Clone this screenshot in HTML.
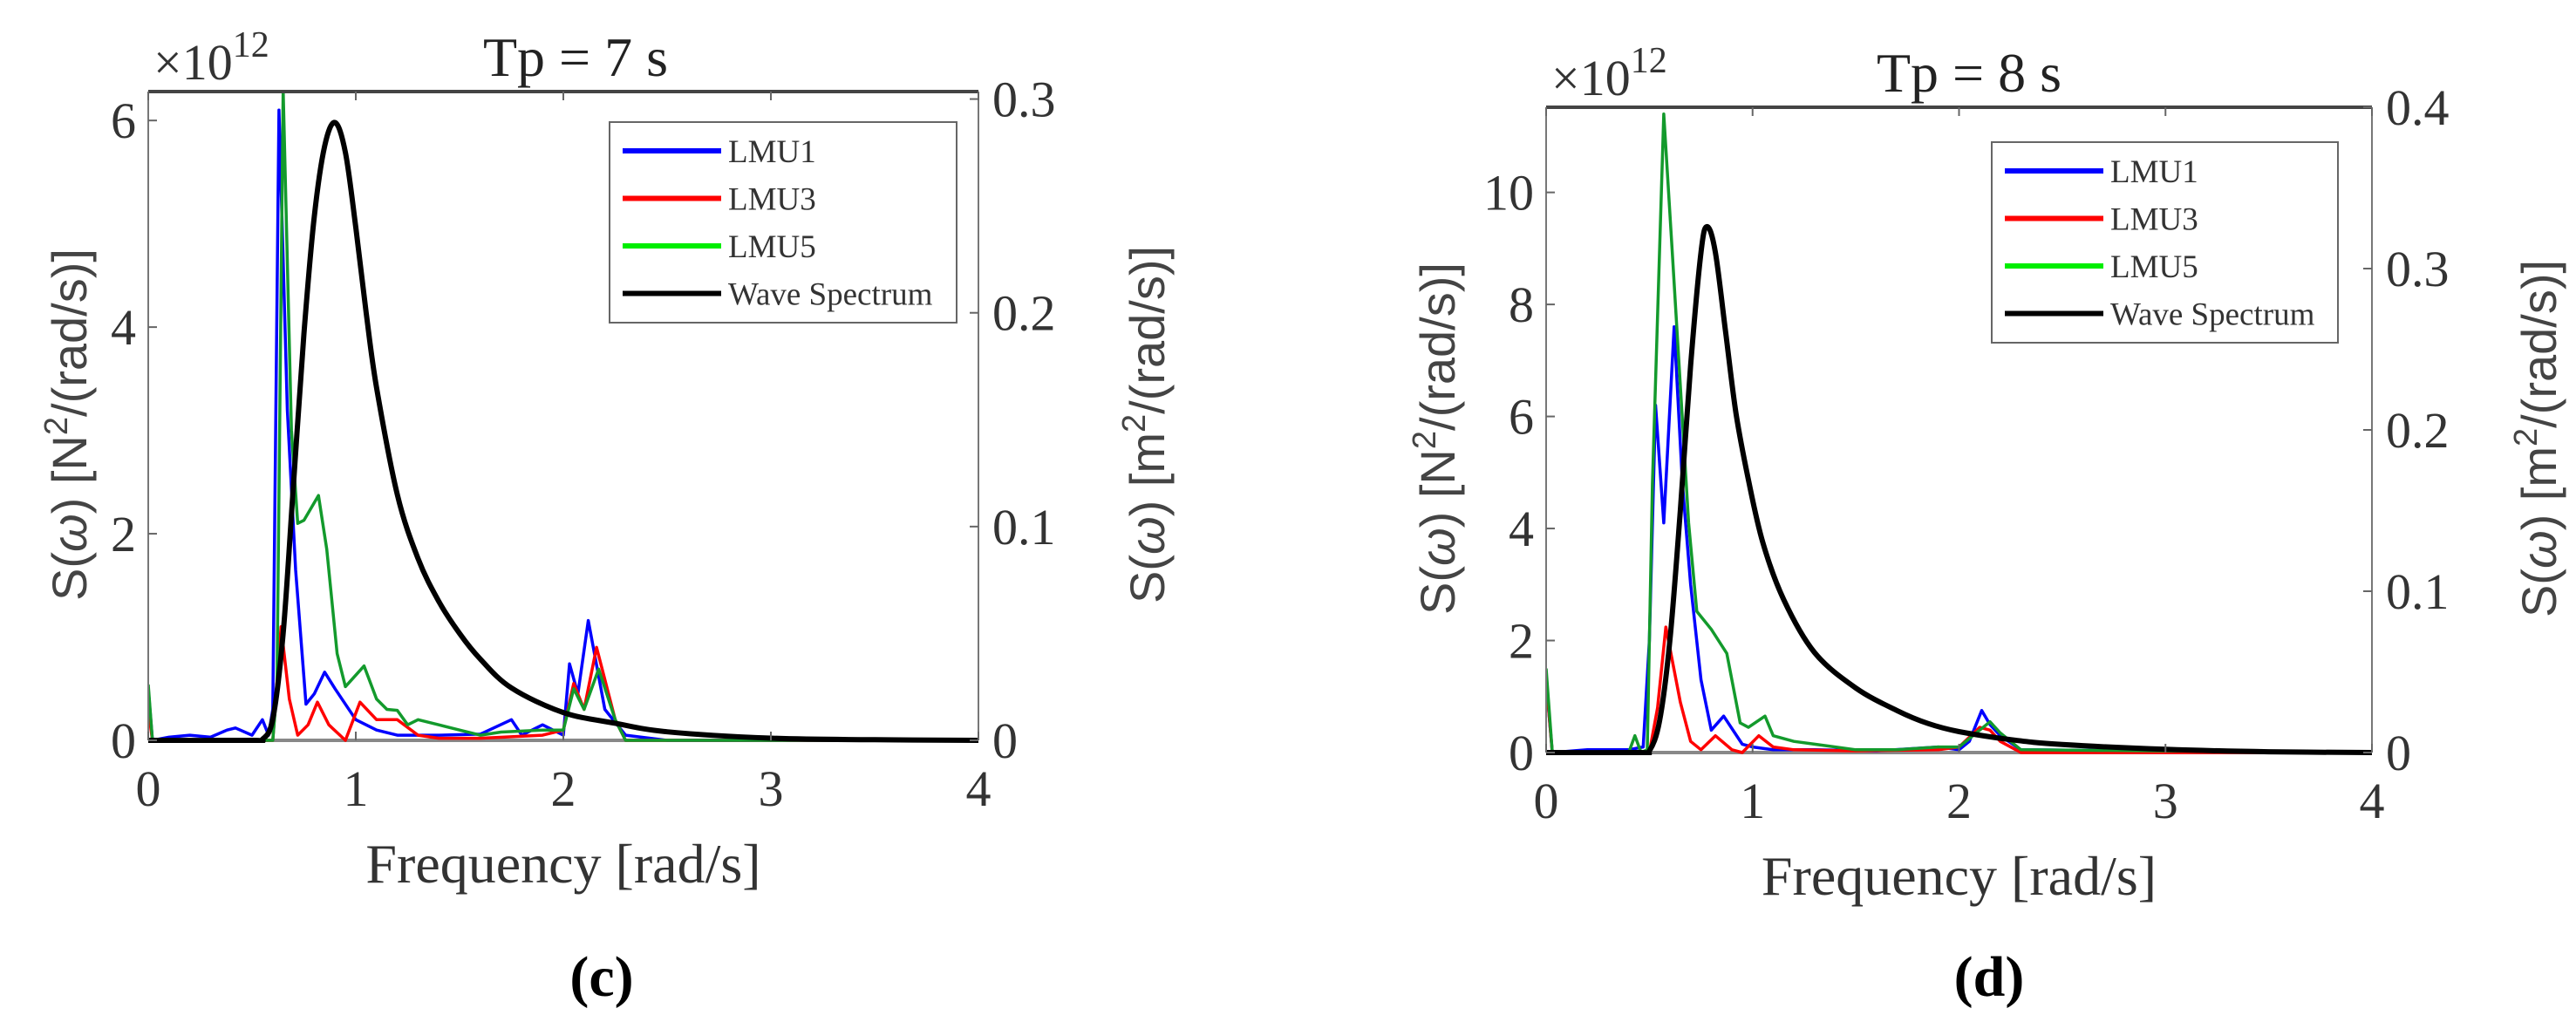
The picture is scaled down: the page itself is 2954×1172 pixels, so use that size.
<!DOCTYPE html>
<html><head><meta charset="utf-8"><style>
html,body{margin:0;padding:0;background:#fff;}
svg{display:block;}
</style></head><body>
<svg id="fig" width="2954" height="1172" viewBox="0 0 2954 1172" xmlns="http://www.w3.org/2000/svg"></svg>
<script>
// ---------- Data: panel (c) Tp = 7 s ----------
const xTicks = [0, 1, 2, 3, 4];
const cLeftTicks = [0, 2, 4, 6];
const cRightTicks = [0, 0.1, 0.2, 0.3];
const cRightTickLabels = ["0", "0.1", "0.2", "0.3"];
const cWaveW = [0,0.5,0.55,0.6,0.65,0.7,0.75,0.8,0.85,0.9,0.95,1.0,1.05,1.1,1.2,1.3,1.4,1.5,1.6,1.75,2.0,2.25,2.5,3.0,3.5,4.0];
const cWaveS = [0,0,0.0005,0.01,0.05,0.12,0.19,0.245,0.278,0.289,0.275,0.24,0.2,0.165,0.115,0.085,0.065,0.05,0.038,0.0245,0.013,0.008,0.004,0.001,0.0003,0];
const cLmu1W = [0,0.02,0.1,0.2,0.3,0.38,0.42,0.5,0.55,0.58,0.6,0.63,0.67,0.71,0.76,0.8,0.85,0.9,1.0,1.1,1.2,1.4,1.6,1.75,1.8,1.9,2.0,2.03,2.07,2.12,2.2,2.3,2.5,4.0];
const cLmu1S = [0.5,0,0.03,0.05,0.03,0.1,0.12,0.05,0.2,0.05,0.3,6.1,3.2,1.65,0.35,0.45,0.66,0.5,0.2,0.1,0.05,0.05,0.06,0.2,0.05,0.15,0.05,0.74,0.45,1.16,0.3,0.05,0,0];
const cLmu3W = [0,0.02,0.5,0.6,0.64,0.68,0.72,0.77,0.815,0.87,0.95,1.02,1.1,1.2,1.3,1.4,1.6,1.9,2.0,2.05,2.1,2.16,2.25,2.3,4.0];
const cLmu3S = [0.3,0,0,0,1.1,0.4,0.05,0.15,0.37,0.15,0,0.37,0.2,0.2,0.05,0.02,0.02,0.05,0.1,0.55,0.3,0.9,0.2,0,0];
const cLmu5W = [0,0.02,0.5,0.6,0.62,0.65,0.69,0.72,0.75,0.82,0.86,0.91,0.95,1.04,1.1,1.15,1.2,1.25,1.3,1.4,1.5,1.6,1.7,1.9,2.0,2.05,2.1,2.17,2.25,2.3,4.0];
const cLmu5S = [0.54,0,0,0,0.5,6.3,3.0,2.1,2.13,2.37,1.85,0.84,0.52,0.72,0.4,0.3,0.29,0.15,0.2,0.15,0.1,0.05,0.08,0.1,0.1,0.5,0.3,0.69,0.2,0,0];

// ---------- Data: panel (d) Tp = 8 s ----------
const dLeftTicks = [0, 2, 4, 6, 8, 10];
const dRightTicks = [0, 0.1, 0.2, 0.3, 0.4];
const dRightTickLabels = ["0", "0.1", "0.2", "0.3", "0.4"];
const dWaveW = [0,0.45,0.5,0.55,0.6,0.65,0.7,0.75,0.78,0.82,0.87,0.92,0.98,1.05,1.15,1.3,1.5,1.7,1.85,2.0,2.25,2.5,3.0,3.5,4.0];
const dWaveS = [0,0,0.001,0.02,0.07,0.15,0.24,0.31,0.326,0.31,0.26,0.21,0.169,0.13,0.095,0.062,0.04,0.026,0.018,0.013,0.008,0.005,0.002,0.0005,0];
const dLmu1W = [0,0.03,0.2,0.4,0.47,0.5,0.53,0.57,0.62,0.66,0.7,0.75,0.8,0.86,0.95,1.0,1.1,1.3,1.6,1.9,2.0,2.05,2.11,2.15,2.2,2.3,4.0];
const dLmu1S = [1.28,0,0.05,0.05,0.1,2.0,6.2,4.1,7.6,4.8,3.0,1.3,0.4,0.65,0.15,0.1,0.05,0.05,0.03,0.1,0.05,0.2,0.75,0.5,0.3,0.05,0];
const dLmu3W = [0,0.03,0.4,0.5,0.54,0.58,0.65,0.7,0.75,0.82,0.9,0.95,1.03,1.1,1.2,1.5,1.9,2.0,2.1,2.15,2.2,2.3,4.0];
const dLmu3S = [1.3,0,0,0,0.8,2.24,0.9,0.2,0.05,0.3,0.05,0,0.3,0.1,0.05,0.03,0.05,0.1,0.45,0.4,0.2,0,0];
const dLmu5W = [0,0.03,0.4,0.43,0.46,0.49,0.515,0.57,0.61,0.69,0.73,0.8,0.875,0.94,0.98,1.06,1.1,1.2,1.3,1.5,1.7,1.9,2.0,2.1,2.15,2.2,2.3,4.0];
const dLmu5S = [1.5,0,0,0.3,0,0.05,4.8,11.4,9.0,4.1,2.52,2.2,1.77,0.53,0.45,0.65,0.3,0.2,0.15,0.05,0.05,0.1,0.1,0.4,0.55,0.35,0.05,0];

const NS = "http://www.w3.org/2000/svg";
const svg = document.getElementById("fig");
function mk(tag, attrs, parent) {
  const e = document.createElementNS(NS, tag);
  for (const k in attrs) e.setAttribute(k, attrs[k]);
  (parent || svg).appendChild(e);
  return e;
}
function smoothPath(pts) {
  let d = "M" + pts[0][0].toFixed(1) + "," + pts[0][1].toFixed(1);
  for (let i = 0; i < pts.length - 1; i++) {
    const p0 = pts[Math.max(0, i - 1)], p1 = pts[i], p2 = pts[i + 1], p3 = pts[Math.min(pts.length - 1, i + 2)];
    const c1x = p1[0] + (p2[0] - p0[0]) / 6, c1y = p1[1] + (p2[1] - p0[1]) / 6;
    const c2x = p2[0] - (p3[0] - p1[0]) / 6, c2y = p2[1] - (p3[1] - p1[1]) / 6;
    d += " C" + c1x.toFixed(1) + "," + c1y.toFixed(1) + " " + c2x.toFixed(1) + "," + c2y.toFixed(1) + " " + p2[0].toFixed(1) + "," + p2[1].toFixed(1);
  }
  return d;
}

function panel(p) {
  const g = mk("g", {});
  
  
  const xs = w => p.x0 + (p.x1 - p.x0) * w / 4;
  const yl = v => p.y0 - (p.y0 - p.yTop) * v / p.leftMax;
  const yr = v => p.y0 - (p.y0 - p.yTop) * v / p.rightMax;
  const clipId = "clip-" + p.name;
  const cp = mk("clipPath", {id: clipId}, g);
  mk("rect", {x: p.x0, y: p.yTop, width: p.x1 - p.x0, height: p.y0 - p.yTop + 3}, cp);

  const base = mk("line", {x1: p.x0, x2: p.x1, y1: p.y0, y2: p.y0, stroke: "#888", "stroke-width": 4}, g);
  
  

  const series = [
    [p.l1w, p.l1s, "#0000ff", "lmu1-line", yl, 3.5, false],
    [p.l3w, p.l3s, "#ff0000", "lmu3-line", yl, 3.5, false],
    [p.l5w, p.l5s, "#139a2c", "lmu5-line", yl, 3.5, false],
    [p.ww, p.ws, "#000000", "wave-spectrum-line", yr, 6, true]
  ];
  for (const s of series) {
    const pts = s[0].map((w, i) => [xs(w), s[4](s[1][i])]);
    let el;
    if (s[6]) {
      el = mk("path", {d: smoothPath(pts), fill: "none", stroke: s[2], "stroke-width": s[5], "stroke-linejoin": "round", "clip-path": "url(#" + clipId + ")"}, g);
    } else {
      el = mk("polyline", {points: pts.map(q => q[0].toFixed(1) + "," + q[1].toFixed(1)).join(" "), fill: "none", stroke: s[2], "stroke-width": s[5], "stroke-linejoin": "round", "clip-path": "url(#" + clipId + ")"}, g);
    }
    
    
  }

  mk("line", {x1: p.x0, x2: p.x1, y1: p.yTop, y2: p.yTop, stroke: "#444", "stroke-width": 4}, g);
  mk("line", {x1: p.x0, x2: p.x0, y1: p.yTop, y2: p.y0, stroke: "#777", "stroke-width": 2}, g);
  mk("line", {x1: p.x1, x2: p.x1, y1: p.yTop, y2: p.y0, stroke: "#777", "stroke-width": 2}, g);

  const tf = {"font-family": "Liberation Serif, serif", fill: "#333"};
  for (const t of xTicks) {
    mk("line", {x1: xs(t), x2: xs(t), y1: p.y0, y2: p.y0 - 10, stroke: "#666", "stroke-width": 2}, g);
    mk("line", {x1: xs(t), x2: xs(t), y1: p.yTop, y2: p.yTop + 10, stroke: "#666", "stroke-width": 2}, g);
    const tx = mk("text", Object.assign({x: xs(t), y: p.y0 + 75, "font-size": 58, "text-anchor": "middle"}, tf), g);
    tx.textContent = t;
    
    
  }
  for (const t of p.lt) {
    mk("line", {x1: p.x0, x2: p.x0 + 10, y1: yl(t), y2: yl(t), stroke: "#666", "stroke-width": 2}, g);
    const tx = mk("text", Object.assign({x: p.x0 - 14, y: yl(t) + 20, "font-size": 58, "text-anchor": "end"}, tf), g);
    tx.textContent = t;
    
    
  }
  p.rt.forEach((t, i) => {
    mk("line", {x1: p.x1, x2: p.x1 - 10, y1: yr(t), y2: yr(t), stroke: "#666", "stroke-width": 2}, g);
    const tx = mk("text", Object.assign({x: p.x1 + 16, y: yr(t) + 20, "font-size": 58}, tf), g);
    tx.textContent = p.rtl[i];
    
    
  });

  const ex = mk("text", Object.assign({x: p.x0 + 6, y: p.yTop - 14, "font-size": 58}, tf), g);
  ex.innerHTML = '×10<tspan dy="-26" font-size="42">12</tspan>';
  
  

  const ti = mk("text", Object.assign({x: p.titleX, y: p.yTop - 18, "font-size": 64, "text-anchor": "middle"}, tf, {fill: "#222"}), g);
  ti.textContent = p.title;
  
  

  const xl = mk("text", Object.assign({x: (p.x0 + p.x1) / 2, y: p.y0 + 163, "font-size": 64, "text-anchor": "middle"}, tf), g);
  xl.textContent = "Frequency [rad/s]";
  
  

  const yc = (p.y0 + p.yTop) / 2 + 10;
  const ly = mk("text", {x: 0, y: 0, "font-family": "Liberation Sans, DejaVu Sans, sans-serif", "font-size": 56, fill: "#444", "text-anchor": "middle", transform: "translate(" + (p.lyX + 20) + "," + yc + ") rotate(-90)"}, g);
  ly.innerHTML = 'S(<tspan font-style="italic">ω</tspan>) [N<tspan dy="-22" font-size="38">2</tspan><tspan dy="22">/(rad/s)]</tspan>';
  
  
  const ry = mk("text", {x: 0, y: 0, "font-family": "Liberation Sans, DejaVu Sans, sans-serif", "font-size": 56, fill: "#444", "text-anchor": "middle", transform: "translate(" + (p.ryX + 20) + "," + yc + ") rotate(-90)"}, g);
  ry.innerHTML = 'S(<tspan font-style="italic">ω</tspan>) [m<tspan dy="-22" font-size="38">2</tspan><tspan dy="22">/(rad/s)]</tspan>';
  
  

  const lg = mk("g", {}, g);
  
  
  mk("rect", {x: p.lgX, y: p.lgY, width: p.lgW, height: p.lgH, fill: "#fff", stroke: "#666", "stroke-width": 2}, lg);
  const entries = [["LMU1", "#0000ff"], ["LMU3", "#ff0000"], ["LMU5", "#00ee00"], ["Wave Spectrum", "#000"]];
  entries.forEach((en, i) => {
    const ey = p.lgY + 33 + i * 54.5;
    const eg = mk("g", {}, lg);
    
    
    mk("line", {x1: p.lgX + 15, x2: p.lgX + 128, y1: ey, y2: ey, stroke: en[1], "stroke-width": 6}, eg);
    const t = mk("text", {x: p.lgX + 136, y: ey + 13, "font-family": "Liberation Serif, serif", "font-size": 37, fill: "#333"}, eg);
    t.textContent = en[0];
  });

  const pl = mk("text", {x: p.letterX, y: 1142, "font-family": "Liberation Serif, serif", "font-size": 66, "font-weight": "bold", fill: "#000", "text-anchor": "middle"}, g);
  pl.textContent = p.letter;
  
  
}

panel({name: "panel-c", x0: 170, x1: 1122, y0: 849, yTop: 105, leftMax: 6.28, rightMax: 0.3035,
  lt: cLeftTicks, rt: cRightTicks, rtl: cRightTickLabels,
  ww: cWaveW, ws: cWaveS, l1w: cLmu1W, l1s: cLmu1S, l3w: cLmu3W, l3s: cLmu3S, l5w: cLmu5W, l5s: cLmu5S,
  title: "Tp = 7 s", titleX: 660, lyX: 79, ryX: 1315,
  lgX: 699, lgY: 140, lgW: 398, lgH: 230, letter: "(c)", letterX: 690});
panel({name: "panel-d", x0: 1773, x1: 2720, y0: 863, yTop: 123, leftMax: 11.52, rightMax: 0.4,
  lt: dLeftTicks, rt: dRightTicks, rtl: dRightTickLabels,
  ww: dWaveW, ws: dWaveS, l1w: dLmu1W, l1s: dLmu1S, l3w: dLmu3W, l3s: dLmu3S, l5w: dLmu5W, l5s: dLmu5S,
  title: "Tp = 8 s", titleX: 2258, lyX: 1648, ryX: 2911,
  lgX: 2284, lgY: 163, lgW: 397, lgH: 230, letter: "(d)", letterX: 2281});
</script>
</body></html>
